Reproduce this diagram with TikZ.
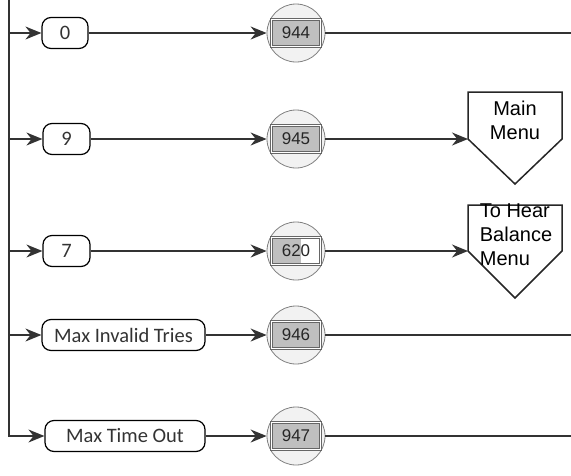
\documentclass[tikz,border=0pt]{standalone}
\usepackage{fontspec}
\setmainfont{Liberation Sans}
\newfontfamily\calibri{Carlito}
\usetikzlibrary{arrows.meta, positioning}

\tikzset{
  opcion/.style={draw, line width=1.2pt, rounded corners=9pt, minimum height=31pt, inner xsep=8pt, font=\calibri\fontsize{20.5}{24}\selectfont, text=black!80},
  estado/.style={circle, draw=gray, fill=gray!10, minimum size=58pt, line width=0.8pt},
  numero/.style={draw=black!60, fill=gray!50, double=white, double distance=1.5pt, minimum width=49pt, minimum height=27pt, inner sep=0pt, font=\fontsize{17}{20}\selectfont, text=black!85},
  flecha/.style={line width=1.5pt, draw=black!80, -{Stealth[length=16pt,width=13pt]}},
  linea/.style={line width=1.5pt, draw=black!80},
  salida/.style={line width=1.5pt, draw=black!85, fill=white},
  rotulo/.style={font=\fontsize{20}{24}\selectfont, inner sep=0pt},
}

\begin{document}
\begin{tikzpicture}[x=1pt, y=-1pt]
\useasboundingbox (0,0) rectangle (571,475);

% Opciones
\node[opcion, minimum width=46pt] (op0) at (65,33) {0};
\node[opcion, minimum width=47pt] (op9) at (66.5,139) {9};
\node[opcion, minimum width=47pt] (op7) at (66.5,251) {7};
\node[opcion, minimum width=163pt] (opinv) at (123.5,335) {Max Invalid Tries};
\node[opcion, minimum width=160pt] (optmo) at (125,436) {Max Time Out};

% Estados
\node[estado] (e944) at (296,33) {};
\node[numero] (n944) at (e944) {944};
\node[estado] (e945) at (296,139) {};
\node[numero] (n945) at (e945) {945};
\node[estado] (e620) at (296,251) {};
\node[numero, fill=white, path picture={\fill[gray!50] (path picture bounding box.south west) rectangle ([xshift=-20pt]path picture bounding box.north east);}] (n620) at (e620) {620};
\node[estado] (e946) at (296,335) {};
\node[numero] (n946) at (e946) {946};
\node[estado] (e947) at (296,436) {};
\node[numero] (n947) at (e947) {947};

% Salidas a otros menus
\draw[salida] (468,92) -- (562,92) -- (562,139) -- (515,184) -- (468,139) -- cycle;
\coordinate (mm) at (468,139);
\node[rotulo, align=center] (mainmenu) at (515,120) {Main\\Menu};
\draw[salida] (468,205) -- (562,205) -- (562,251) -- (515,298) -- (468,251) -- cycle;
\coordinate (bm) at (468,251);
\node[rotulo, align=left] (balmenu) at (516,235) {To Hear\\Balance\\Menu};

% Bus de la izquierda
\coordinate (bus) at (9,0);
\draw[flecha] (bus |- op0) -- (op0);
\draw[flecha] (bus |- op9) -- (op9);
\draw[flecha] (bus |- op7) -- (op7);
\draw[flecha] (bus |- opinv) -- (opinv);
\draw[flecha] (bus) |- (optmo);

% Conexiones
\draw[flecha] (op0) -- (e944);
\draw[flecha] (op9) -- (e945);
\draw[flecha] (op7) -- (e620);
\draw[flecha] (opinv) -- (e946);
\draw[flecha] (optmo) -- (e947);
\draw[flecha] (e945) -- (mm);
\draw[flecha] (e620) -- (bm);
\coordinate (f944) at (571,33);
\coordinate (f946) at (571,335);
\coordinate (f947) at (571,436);
\draw[linea] (e944) -- (f944);
\draw[linea] (e946) -- (f946);
\draw[linea] (e947) -- (f947);
\end{tikzpicture}
\end{document}
